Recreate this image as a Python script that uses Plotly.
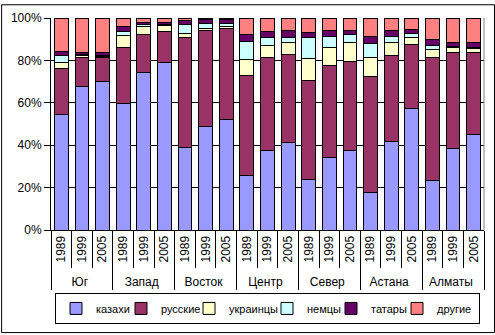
import plotly.graph_objects as go

regions = ["Юг", "Запад", "Восток", "Центр", "Север", "Астана", "Алматы"]
years = ["1989", "1999", "2005"]

series_names = ["казахи", "русские", "украинцы", "немцы", "татары", "другие"]
colors = ["#9999FF", "#993366", "#FFFFCC", "#CCFFFF", "#660066", "#FF8080"]

kazakhs = [54.7, 67.7, 70.0, 59.8, 74.2, 78.8, 38.9, 48.6, 52.0, 25.9, 37.5, 41.2,
           24.0, 34.2, 37.5, 17.5, 41.7, 57.5, 23.5, 38.4, 44.9]
russians = [21.6, 13.9, 11.4, 26.4, 17.9, 14.9, 51.8, 45.5, 43.1, 46.9, 44.1, 41.8,
            46.5, 43.2, 42.2, 54.8, 40.8, 30.1, 58.1, 45.5, 39.0]
ukrainians = [2.5, 0.6, 0.5, 5.6, 3.7, 2.6, 2.1, 1.0, 0.9, 7.4, 5.6, 5.6,
              10.6, 8.8, 8.9, 9.3, 6.1, 3.3, 3.7, 2.3, 1.9]
germans = [3.7, 0.6, 0.5, 1.9, 1.0, 0.8, 4.1, 2.3, 1.4, 8.8, 3.7, 2.3,
           9.8, 5.1, 3.7, 6.5, 2.8, 1.9, 1.9, 0.3, 0.4]
tatars = [1.9, 0.9, 1.3, 2.1, 0.9, 0.9, 1.9, 1.8, 2.0, 3.3, 2.8, 3.2,
          2.3, 2.8, 1.8, 3.3, 2.7, 2.0, 2.8, 2.1, 2.4]
others = [15.6, 16.3, 16.4, 4.2, 2.3, 2.0, 1.2, 0.8, 0.6, 7.7, 6.3, 5.9,
          6.8, 5.9, 5.9, 8.6, 5.9, 5.2, 10.0, 11.4, 11.4]

series_values = [kazakhs, russians, ukrainians, germans, tatars, others]
# legend entry widths (px) used to pack the legend entries tightly in one row
legend_widths = [20, 23, 33, 19, 21, 37]

x_regions = [r for r in regions for _ in years]
x_years = [y for _ in regions for y in years]

fig = go.Figure()
for name, color, vals, lw in zip(series_names, colors, series_values, legend_widths):
    fig.add_trace(go.Bar(
        x=[x_regions, x_years], y=vals, name=name, legendwidth=lw,
        marker=dict(color=color, line=dict(color="black", width=1)),
    ))

W, H = 495, 335
ml, mr, mt, mb = 50, 11, 14, 105
pw, ph = W - ml - mr, H - mt - mb

fig.update_layout(
    barmode="stack", barnorm="percent", bargap=0.33,
    width=W, height=H,
    margin=dict(l=ml, r=mr, t=mt, b=mb),
    paper_bgcolor="white", plot_bgcolor="white",
    font=dict(family="Liberation Sans, Arial, sans-serif", size=12, color="black"),
    showlegend=True,
    legend=dict(orientation="h", traceorder="normal", x=0.5, xanchor="center",
                y=-0.37, yanchor="middle",
                bordercolor="black", borderwidth=1, bgcolor="white",
                font=dict(size=11), itemwidth=30),
    xaxis=dict(type="multicategory", tickangle=-90, showline=True, linecolor="black",
               ticks="outside", tickson="boundaries", ticklen=37, tickcolor="black",
               showdividers=True, dividercolor="black", dividerwidth=1,
               showgrid=False, zeroline=False),
    yaxis=dict(range=[0, 100], dtick=20, ticksuffix="%", showline=True, linecolor="black",
               ticks="outside", ticklen=6, tickcolor="black",
               showgrid=True, gridcolor="black", gridwidth=1, zeroline=False),
)

# plot area right border (grey) and outer chart border
fig.add_shape(type="line", xref="paper", yref="paper", x0=1, x1=1, y0=0, y1=1,
              line=dict(color="#808080", width=1))
fig.add_shape(type="rect", xref="paper", yref="paper",
              x0=(0.5 - ml) / pw, x1=(W - 0.5 - ml) / pw,
              y0=-(mb - 0.5) / ph, y1=1 + (mt - 0.5) / ph,
              line=dict(color="black", width=1), layer="above")

fig.write_html("out.html")
